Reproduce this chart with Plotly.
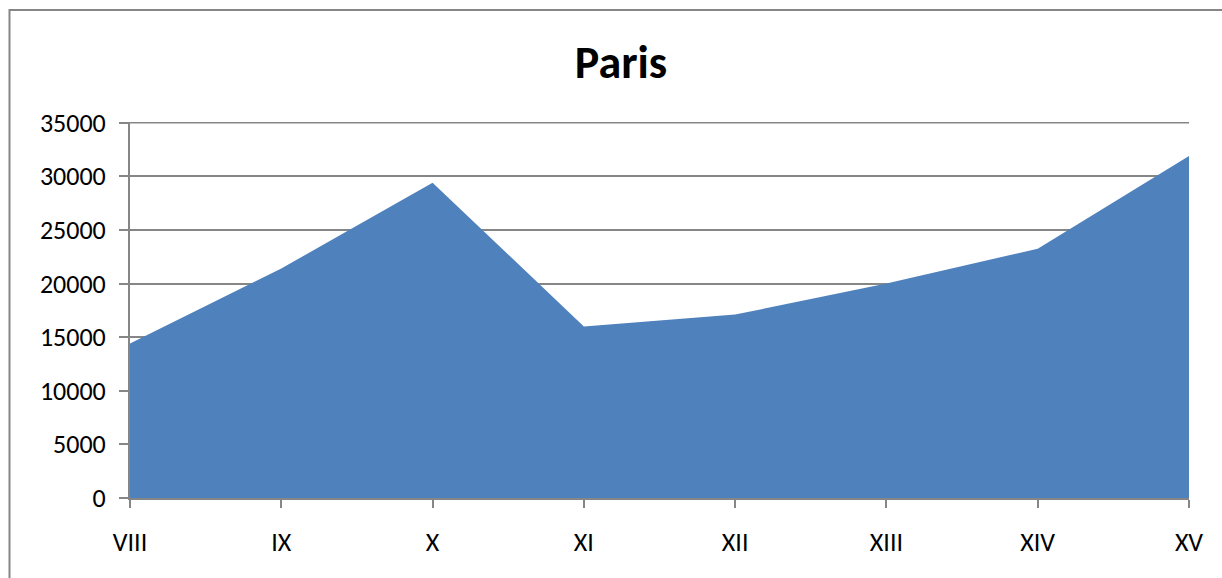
import plotly.graph_objects as go

categories = ["VIII", "IX", "X", "XI", "XII", "XIII", "XIV", "XV"]
values = [14400, 21400, 29400, 16000, 17100, 20000, 23250, 31900]
y_ticks = [0, 5000, 10000, 15000, 20000, 25000, 30000, 35000]

W, H = 1222, 578
ML, MR, MT, MB = 130, 33, 122, 80
PW, PH = W - ML - MR, H - MT - MB

grid = "#868686"
font_family = "Carlito, Lato, sans-serif"

fig = go.Figure()
fig.add_trace(go.Scatter(
    x=categories, y=values, mode="lines", fill="tozeroy",
    fillcolor="#4F81BD", line=dict(width=0, color="#4F81BD"),
    hoverinfo="x+y", showlegend=False,
))

def px_x(p):
    return (p - ML) / PW

def px_y(p):
    return (H - MB - p) / PH

fig.update_layout(
    width=W, height=H,
    margin=dict(l=ML, r=MR, t=MT, b=MB),
    paper_bgcolor="white", plot_bgcolor="white",
    font=dict(family=font_family, size=26, color="black"),
    title=dict(text="<b>Paris</b>", x=621 / W, xanchor="center",
               y=1 - 62 / H, yanchor="middle", yref="container",
               font=dict(family=font_family, size=46, color="black")),
    xaxis=dict(
        type="category", range=[0, len(categories) - 1],
        showgrid=False, showline=True, linecolor=grid, linewidth=2,
        ticks="outside", ticklen=8, tickcolor=grid, tickwidth=2,
        tickfont=dict(size=26), ticklabelstandoff=12,
        fixedrange=True,
    ),
    yaxis=dict(
        range=[0, 35060], tickvals=y_ticks, ticktext=[str(v) for v in y_ticks],
        showgrid=True, gridcolor=grid, gridwidth=1.5,
        showline=True, linecolor=grid, linewidth=2,
        ticks="outside", ticklen=9, tickcolor=grid, tickwidth=2,
        tickfont=dict(size=26), ticklabelstandoff=8,
        zeroline=False, fixedrange=True,
    ),
    shapes=[
        dict(type="rect", xref="paper", yref="paper",
             x0=px_x(9.5), x1=px_x(1260), y0=px_y(620), y1=px_y(10),
             line=dict(color=grid, width=2), fillcolor="rgba(0,0,0,0)", layer="below"),
        dict(type="line", xref="paper", yref="y", x0=0, x1=1,
             y0=y_ticks[-1], y1=y_ticks[-1],
             line=dict(color=grid, width=1.5), layer="below"),
    ],
)

fig.write_html("out.html")
